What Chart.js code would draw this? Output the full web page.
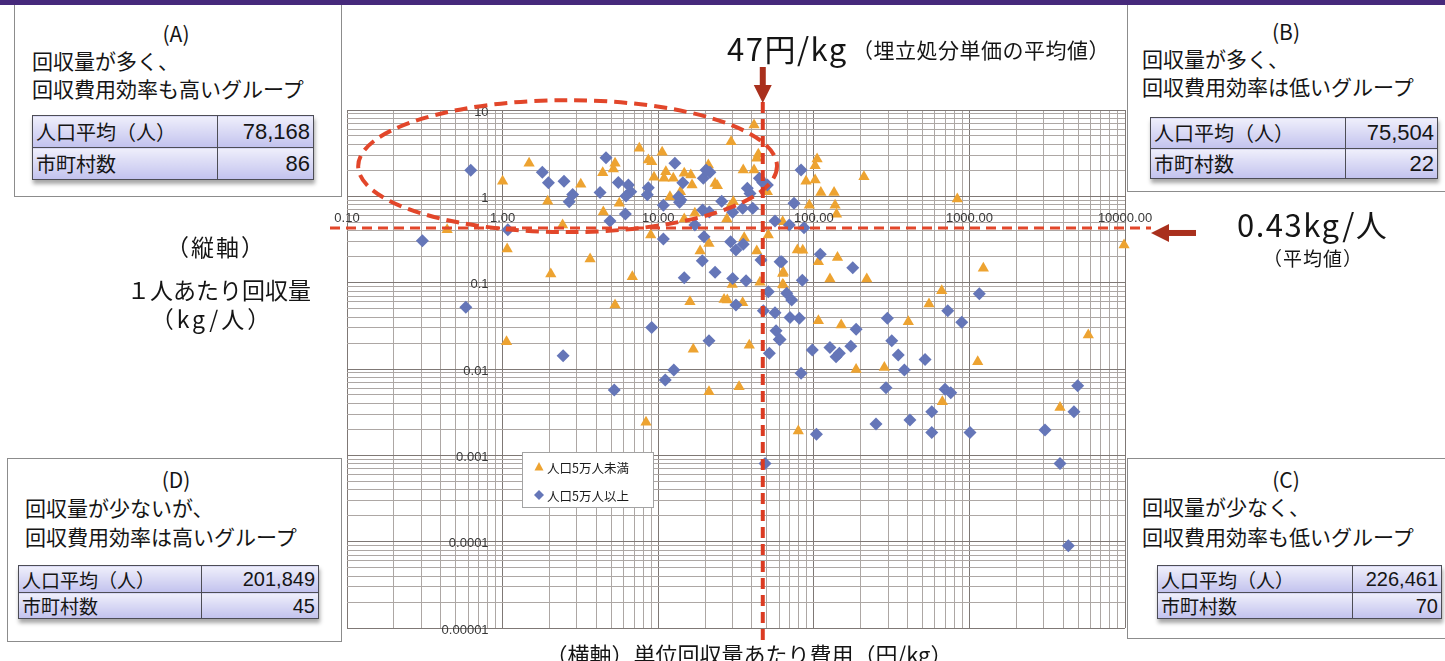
<!DOCTYPE html>
<html lang="ja">
<head>
<meta charset="utf-8">
<title>単位回収量あたり費用と１人あたり回収量</title>
<script src="https://cdn.jsdelivr.net/npm/chart.js@4.4.1/dist/chart.umd.min.js"></script>
<style>
html,body{margin:0;padding:0;background:#fff;}
body{width:1445px;height:661px;position:relative;overflow:hidden;
  font-family:"Noto Sans CJK JP","Noto Sans",sans-serif;color:#151515;}
#band{position:absolute;left:0;top:0;width:1445px;height:5px;background:#46297b;z-index:3;}
#chart{position:absolute;left:0;top:0;}
.box{position:absolute;border:1px solid #8c8c8c;background:#fff;z-index:2;}
.t{position:absolute;white-space:nowrap;line-height:1;transform:translateY(-50%);}
.c{transform:translate(-50%,-50%);}
.box .t{font-size:21px;}
.box .ttl{font-size:21px;}
.tb{position:absolute;border-collapse:collapse;box-shadow:1px 4px 4px rgba(0,0,0,0.35);}
.tb td{border:1px solid #4d4d55;padding:0 3px;line-height:1;
  background:linear-gradient(to bottom,#efeffb,#c2c2ee);}
.tb .k{font-size:20px;text-align:left;}
.tb .v{font-family:"Liberation Sans",Arial,sans-serif;font-size:22px;text-align:right;}
.tb.sm .k{font-size:19px;}
.tb.sm .v{font-size:20px;}
.big{font-size:31px;letter-spacing:1.5px;}
.mid{font-size:21px;}
.lbl{font-size:23px;}
</style>
</head>
<body>
<div id="band"></div>
<canvas id="chart" width="1445" height="661"></canvas>

<!-- group boxes -->
<div class="box" style="left:14px;top:4px;width:326px;height:192px;border-top:none;">
  <div class="t c ttl" style="left:161px;top:29px;">(A)</div>
  <div class="t" style="left:17px;top:56px;">回収量が多く、</div>
  <div class="t" style="left:17px;top:84px;">回収費用効率も高いグループ</div>
  <table class="tb" style="left:17px;top:111px;width:282px;">
    <tr><td class="k" style="width:178px;height:31px;">人口平均（人）</td><td class="v">78,168</td></tr>
    <tr><td class="k" style="height:31px;">市町村数</td><td class="v">86</td></tr>
  </table>
</div>

<div class="box" style="left:1127px;top:4px;width:320px;height:187px;border-top:none;">
  <div class="t c ttl" style="left:158px;top:27px;">(B)</div>
  <div class="t" style="left:14px;top:54px;">回収量が多く、</div>
  <div class="t" style="left:14px;top:82px;">回収費用効率は低いグループ</div>
  <table class="tb" style="left:22px;top:113px;width:288px;">
    <tr><td class="k" style="width:188px;height:30px;">人口平均（人）</td><td class="v">75,504</td></tr>
    <tr><td class="k" style="height:29px;">市町村数</td><td class="v">22</td></tr>
  </table>
</div>

<div class="box" style="left:7px;top:458px;width:333px;height:182px;">
  <div class="t c ttl" style="left:168px;top:20px;">(D)</div>
  <div class="t" style="left:17px;top:48px;">回収量が少ないが、</div>
  <div class="t" style="left:17px;top:77px;">回収費用効率は高いグループ</div>
  <table class="tb sm" style="left:10px;top:106px;width:301px;">
    <tr><td class="k" style="width:176px;height:26px;">人口平均（人）</td><td class="v">201,849</td></tr>
    <tr><td class="k" style="height:25px;">市町村数</td><td class="v">45</td></tr>
  </table>
</div>

<div class="box" style="left:1127px;top:458px;width:320px;height:179px;">
  <div class="t c ttl" style="left:158px;top:20px;">(C)</div>
  <div class="t" style="left:14px;top:47px;">回収量が少なく、</div>
  <div class="t" style="left:14px;top:77px;">回収費用効率も低いグループ</div>
  <table class="tb sm" style="left:29px;top:106px;width:285px;">
    <tr><td class="k" style="width:188px;height:26px;">人口平均（人）</td><td class="v">226,461</td></tr>
    <tr><td class="k" style="height:25px;">市町村数</td><td class="v">70</td></tr>
  </table>
</div>

<!-- reference values and axis titles -->
<div class="t big" style="left:727px;top:47px;">47円/kg</div>
<div class="t mid" style="left:852px;top:49px;letter-spacing:0.5px;">（埋立処分単価の平均値）</div>
<div class="t big" style="left:1237px;top:223px;">0.43kg/人</div>
<div class="t c" style="left:1313px;top:257px;font-size:19px;letter-spacing:1px;">（平均値）</div>
<div class="t c lbl" style="left:216px;top:246px;letter-spacing:2px;">（縦軸）</div>
<div class="t c lbl" style="left:219px;top:289px;">１人あたり回収量</div>
<div class="t c lbl" style="left:212px;top:318px;letter-spacing:3px;">（kg/人）</div>
<div class="t c lbl" style="left:749px;top:653px;font-size:22px;">（横軸）単位回収量あたり費用（円/kg）</div>

<script>
// ---- axis ranges and tick labels ----
const xTickValues = [0.1, 1, 10, 100, 1000, 10000];
const xTickLabels = ['0.10', '1.00', '10.00', '100.00', '1000.00', '10000.00'];
const yTickValues = [10, 1, 0.1, 0.01, 0.001, 0.0001, 0.00001];
const yTickLabels = ['10', '1', '0.1', '0.01', '0.001', '0.0001', '0.00001'];

// ---- reference values ----
const avgCost = 47;      // 円/kg
const avgAmount = 0.43;  // kg/人

// group (A) outline, in data units
const groupAOutline = { xMin: 0.118, xMax: 58, yMin: 0.385, yMax: 13 };

// ---- series: 人口5万人未満 ----
const smallCost = [
  1.00,1.48,1.95,0.44,1.07,2.04,2.43,1.06,3.18,5.28,
  5.15,4.40,5.62,4.44,7.56,8.64,9.08,9.40,10.6,11.2,
  10.9,12.5,14.7,16.2,16.5,11.9,13.9,8.95,3.65,6.82,
  14.7,17.2,21.0,23.2,24.0,29.4,41.3,35.2,41.3,43.0,
  44.0,50.3,30.4,28.9,27.6,51.0,21.2,18.6,35.7,43.0,
  45.1,63.1,63.1,29.9,5.28,16.0,26.5,27.8,34.9,16.8,
  38.5,21.2,33.1,8.35,105,102,89.1,102,111,135,
  137,140,93.6,210,836,63.1,78.4,84.9,142,107,
  63.7,63.7,127,219,664,1229,107,150,187,405,
  284,550,1131,670,79.5,5810,3822,9860
];
const smallAmount = [
  1.50,2.41,0.88,0.41,0.245,0.126,0.465,0.0207,1.38,2.41,
  2.07,1.88,0.83,0.66,3.60,2.63,2.52,1.66,3.24,1.93,
  1.62,1.62,1.85,1.77,1.35,0.99,1.13,0.356,0.188,0.117,
  0.546,0.635,2.30,1.41,1.33,4.29,6.70,2.02,2.02,2.76,
  3.07,1.13,0.866,0.758,0.546,0.356,0.285,0.232,0.331,0.232,
  0.101,0.128,0.0955,0.0955,0.055,0.060,0.064,0.063,0.0585,0.0169,
  0.0189,0.00544,0.00622,0.00241,2.71,2.26,1.50,1.55,1.11,1.11,
  0.79,0.619,0.79,1.69,0.93,0.508,0.239,0.237,0.196,0.175,
  0.132,0.0938,0.110,0.110,0.0804,0.1465,0.0362,0.0323,0.0099,0.0352,
  0.01044,0.0565,0.0121,0.00417,0.00191,0.0247,0.00359,0.273
];

// ---- series: 人口5万人以上 ----
const largeCost = [
  0.624,1.80,1.97,2.48,2.68,0.305,1.08,0.580,2.45,2.82,
  4.62,4.23,6.15,4.90,5.54,6.43,6.66,6.21,8.64,8.51,
  12.8,14.4,10.8,13.5,14.0,13.7,10.8,14.7,17.2,19.5,
  21.5,20.3,44.7,47.0,37.4,38.9,50.3,25.6,30.1,34.9,
  40.5,19.3,21.3,56.3,19.7,19.2,29.2,31.6,35.2,45.8,
  60.7,23.2,30.1,36.7,51.0,31.6,47.4,56.3,9.08,21.2,
  57.2,60.0,51.8,12.6,11.1,5.22,48.6,82.8,74.6,69.6,
  86.5,110,178,62.2,84.4,1158,67.0,72.1,70.3,80.7,
  187,60.7,97.8,127,139,146,173,82.8,297,317,
  349,382,726,893,519,291,697,759,573,415,
  251,573,1009,104,4966,4699,3062,3822,4322
];
const largeAmount = [
  2.00,1.90,1.44,1.50,0.866,0.306,0.41,0.0518,0.0142,1.05,
  2.80,1.11,0.624,0.517,1.45,1.35,1.13,1.01,1.26,1.04,
  2.41,1.44,0.79,0.99,0.906,0.852,0.320,0.114,0.465,1.62,
  1.90,2.02,1.62,1.45,1.24,1.08,1.35,0.88,0.653,0.726,
  0.726,0.694,0.66,0.517,0.340,0.179,0.298,0.239,0.278,0.183,
  0.175,0.132,0.112,0.105,0.0785,0.055,0.0473,0.0448,0.0303,0.0212,
  0.0277,0.0220,0.0152,0.00972,0.00744,0.0057,0.000806,2.02,0.83,0.465,
  0.433,0.213,0.149,0.175,0.107,0.0744,0.0752,0.0629,0.0396,0.0386,
  0.0288,0.022,0.01656,0.0178,0.01385,0.0152,0.0184,0.0089,0.0386,0.0212,
  0.0145,0.00972,0.0473,0.0347,0.0129,0.00606,0.00581,0.0053,0.0032,0.00256,
  0.0023,0.00184,0.00184,0.00175,0.00639,0.0032,0.00196,0.000806,0.0000894
];

const seriesNames = ['人口5万人未満', '人口5万人以上'];
const ORANGE = '#eda331';
const BLUE = '#6576b8';
const RED = '#e2462a';
const DARKRED = '#a9301d';

const toPoints = (xs, ys) => xs.map((v, i) => ({ x: v, y: ys[i] }));

// gridlines at 1..9 × 10^n across a log range
function logGrid(min, max) {
  const out = [];
  for (let e = Math.round(Math.log10(min)); e <= Math.round(Math.log10(max)); e++) {
    for (let m = 1; m <= 9; m++) {
      const v = m * Math.pow(10, e);
      if (v >= min * 0.999 && v <= max * 1.001) out.push(+v.toPrecision(6));
    }
  }
  return out;
}
const isDecade = v => Math.abs(Math.log10(v) - Math.round(Math.log10(v))) < 1e-6;
const gridColor = c => (c.tick && isDecade(c.tick.value)) ? '#7f7875' : '#ada7a4';

// tick labels, reference lines, outline and arrows
const overlay = {
  id: 'overlay',
  afterDatasetsDraw(chart) {
    const { ctx, chartArea: a, scales: { x, y } } = chart;
    ctx.save();

    // legend
    const L = a.left + 175, T = a.top + 342, W = 131, H = 55;
    ctx.fillStyle = '#fff';
    ctx.fillRect(L, T, W, H);
    ctx.strokeStyle = '#a3a3a3';
    ctx.lineWidth = 1;
    ctx.strokeRect(L + 0.5, T + 0.5, W, H);
    ctx.font = '12.5px "Noto Sans CJK JP", sans-serif';
    ctx.textBaseline = 'middle';
    chart.data.datasets.forEach((ds, i) => {
      const cy = T + 15 + i * 28, cx = L + 17;
      ctx.fillStyle = ds.backgroundColor;
      ctx.beginPath();
      if (ds.pointStyle === 'triangle') {
        ctx.moveTo(cx, cy - 5); ctx.lineTo(cx + 4.5, cy + 3.5); ctx.lineTo(cx - 4.5, cy + 3.5);
      } else {
        ctx.moveTo(cx, cy - 5); ctx.lineTo(cx + 5, cy); ctx.lineTo(cx, cy + 5); ctx.lineTo(cx - 5, cy);
      }
      ctx.closePath(); ctx.fill();
      ctx.fillStyle = '#1a1a1a';
      ctx.textAlign = 'left';
      ctx.fillText(ds.label, cx + 8, cy + 1);
    });

    // axis numbers placed along the crossing axes
    ctx.font = '13px "Liberation Sans", Arial, sans-serif';
    ctx.fillStyle = '#383838';
    ctx.textAlign = 'right';
    const yAxisX = x.getPixelForValue(1) - 14;
    yTickValues.forEach((v, i) => ctx.fillText(yTickLabels[i], yAxisX, y.getPixelForValue(v) + 2));
    ctx.textAlign = 'center';
    const xAxisY = y.getPixelForValue(1) + 22;
    xTickValues.forEach((v, i) => ctx.fillText(xTickLabels[i], x.getPixelForValue(v), xAxisY));

    // group (A) outline
    const l = x.getPixelForValue(groupAOutline.xMin), r = x.getPixelForValue(groupAOutline.xMax);
    const t = y.getPixelForValue(groupAOutline.yMax), b = y.getPixelForValue(groupAOutline.yMin);
    ctx.strokeStyle = RED;
    ctx.lineWidth = 4;
    ctx.setLineDash([13, 7]);
    ctx.beginPath();
    ctx.ellipse((l + r) / 2, (t + b) / 2, (r - l) / 2, (b - t) / 2, 0, 0, Math.PI * 2);
    ctx.stroke();

    // average amount (horizontal)
    const hy = y.getPixelForValue(avgAmount);
    ctx.lineWidth = 3;
    ctx.setLineDash([10, 6]);
    ctx.beginPath();
    ctx.moveTo(a.left - 17, hy); ctx.lineTo(a.right + 26, hy);
    ctx.stroke();

    // average cost (vertical)
    const vx = x.getPixelForValue(avgCost);
    ctx.strokeStyle = '#db3b22';
    ctx.lineWidth = 4;
    ctx.setLineDash([11, 6]);
    ctx.beginPath();
    ctx.moveTo(vx, a.top - 8); ctx.lineTo(vx, a.bottom + 15);
    ctx.stroke();
    ctx.setLineDash([]);

    // arrows
    ctx.fillStyle = DARKRED;
    // down arrow above the vertical line
    ctx.fillRect(vx - 3, a.top - 43, 6, 22);
    ctx.beginPath();
    ctx.moveTo(vx - 9, a.top - 25); ctx.lineTo(vx + 9, a.top - 25); ctx.lineTo(vx, a.top - 7);
    ctx.closePath(); ctx.fill();
    // left arrow beside the horizontal line
    const ay = hy + 5, ax = a.right + 26;
    ctx.fillRect(ax + 15, ay - 3, 30, 6);
    ctx.beginPath();
    ctx.moveTo(ax + 18, ay - 9); ctx.lineTo(ax + 18, ay + 9); ctx.lineTo(ax, ay);
    ctx.closePath(); ctx.fill();

    ctx.restore();
  }
};

new Chart(document.getElementById('chart'), {
  type: 'scatter',
  data: {
    datasets: [
      {
        label: seriesNames[0],
        data: toPoints(smallCost, smallAmount),
        pointStyle: 'triangle',
        pointRadius: 6.5,
        pointHoverRadius: 6.5,
        backgroundColor: ORANGE,
        borderColor: ORANGE,
        borderWidth: 0,
        clip: false,
        order: 1
      },
      {
        label: seriesNames[1],
        data: toPoints(largeCost, largeAmount),
        pointStyle: 'rectRot',
        pointRadius: 6.5,
        pointHoverRadius: 6.5,
        backgroundColor: BLUE,
        borderColor: BLUE,
        borderWidth: 0,
        clip: false,
        order: 0
      }
    ]
  },
  options: {
    responsive: false,
    animation: false,
    events: [],
    layout: { padding: { left: 347, top: 110, right: 320, bottom: 33 } },
    plugins: { legend: { display: false }, tooltip: { enabled: false } },
    scales: {
      x: {
        type: 'logarithmic',
        min: xTickValues[0],
        max: xTickValues[xTickValues.length - 1],
        afterBuildTicks: s => { s.ticks = logGrid(s.min, s.max).map(v => ({ value: v })); },
        afterFit: s => { s.height = 0; },
        ticks: { display: false },
        border: { display: false },
        grid: { drawTicks: false, color: gridColor, lineWidth: 1 }
      },
      y: {
        type: 'logarithmic',
        min: yTickValues[yTickValues.length - 1],
        max: yTickValues[0],
        afterBuildTicks: s => { s.ticks = logGrid(s.min, s.max).map(v => ({ value: v })); },
        afterFit: s => { s.width = 0; },
        ticks: { display: false },
        border: { display: false },
        grid: { drawTicks: false, color: gridColor, lineWidth: 1 }
      }
    }
  },
  plugins: [overlay]
});
</script>
</body>
</html>
